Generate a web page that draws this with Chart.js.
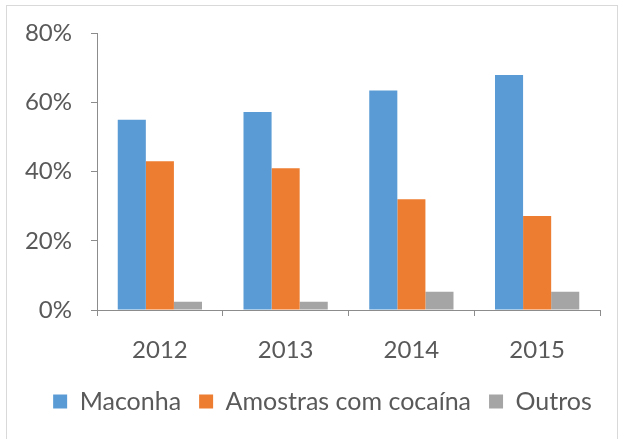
<!DOCTYPE html>
<html>
<head>
<meta charset="utf-8">
<script src="https://cdn.jsdelivr.net/npm/chart.js@4/dist/chart.umd.min.js"></script>
<style>
  html, body { margin: 0; padding: 0; background: #fff; }
  #frame {
    position: absolute; left: 6px; top: 5px; width: 612px; height: 440px;
    border: 1px solid #d9d9d9; box-sizing: border-box;
  }
  #wrap { position: absolute; left: 0; top: 0; width: 622px; height: 439px; }
</style>
</head>
<body>
<div id="frame"></div>
<div id="wrap"><canvas id="chart"></canvas></div>
<script>
const years = ["2012", "2013", "2014", "2015"];
const maconha = [55, 57.3, 63.5, 68];
const cocaina = [43, 41, 32, 27.2];
const outros = [2.4, 2.4, 5.3, 5.3];
const yTicks = [0, 20, 40, 60, 80];

const axisColor = "#8c8c8c";
const textColor = "#595959";
const font = { family: "Lato", size: 24 };

// nudge legend so it is centred on the whole frame, not the plot box
const legendShift = {
    id: "legendShift",
    afterLayout(chart) {
        chart.legend.left += 10;
        chart.legend.right += 10;
    }
};

new Chart(document.getElementById("chart"), {
    type: "bar",
    data: {
        labels: years,
        datasets: [
            { label: "Maconha", data: maconha, backgroundColor: "#5B9BD5" },
            { label: "Amostras com cocaína", data: cocaina, backgroundColor: "#ED7D31" },
            { label: "Outros", data: outros, backgroundColor: "#A5A5A5" }
        ]
    },
    plugins: [legendShift],
    options: {
        responsive: true,
        maintainAspectRatio: false,
        animation: false,
        datasets: { bar: { categoryPercentage: 0.67, barPercentage: 1 } },
        layout: { padding: { left: 25, right: 22, top: 21, bottom: 15 } },
        plugins: {
            tooltip: { enabled: false },
            legend: {
                position: "bottom",
                labels: { color: textColor, font: { family: "Lato", size: 25 }, boxWidth: 14, boxHeight: 14, padding: 18 }
            }
        },
        scales: {
            x: {
                offset: true,
                afterFit: s => { s.height = 61; },
                grid: { offset: true, drawOnChartArea: false, color: axisColor, tickLength: 6 },
                border: { color: axisColor },
                ticks: { color: textColor, font, padding: 20, maxRotation: 0 }
            },
            y: {
                min: 0,
                max: 80,
                afterBuildTicks: s => { s.ticks = yTicks.map(v => ({ value: v })); },
                afterFit: s => { s.width = 72; },
                grid: { drawOnChartArea: false, color: axisColor, tickLength: 6 },
                border: { color: axisColor },
                ticks: { color: textColor, font, padding: 19, callback: v => v + "%" }
            }
        }
    }
});
</script>
</body>
</html>
